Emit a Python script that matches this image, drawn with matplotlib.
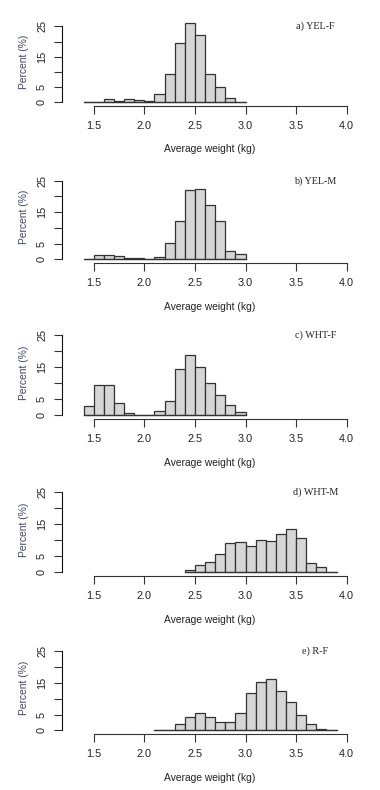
import numpy as np
import matplotlib
matplotlib.use('Agg')
import matplotlib.pyplot as plt

plt.rcParams['font.family'] = ['Liberation Sans', 'DejaVu Sans']

# bin edges: 0.1 kg wide, percent per bin
bins_a = np.round(np.arange(1.4, 3.01, 0.1), 2)
pct_a = [0, 0.1, 1.1, 0.4, 1.1, 0.8, 0.4, 2.6, 9.2, 19.5, 26.1, 22.1, 9.2, 4.9, 1.3, 0]

bins_b = np.round(np.arange(1.4, 3.01, 0.1), 2)
pct_b = [0, 1.3, 1.3, 1.0, 0.3, 0.3, 0, 0.6, 5.1, 12.1, 22.0, 22.4, 17.2, 12.1, 2.5, 1.6]

bins_c = np.round(np.arange(1.4, 3.01, 0.1), 2)
pct_c = [2.8, 9.4, 9.4, 3.75, 0.6, 0, 0, 1.25, 4.4, 14.4, 18.75, 15.2, 10.0, 6.25, 3.1, 0.9]

bins_d = np.round(np.arange(2.4, 3.91, 0.1), 2)
pct_d = [0.6, 2.2, 3.1, 5.6, 9.1, 9.4, 8.1, 10.0, 9.7, 11.9, 13.4, 10.6, 2.8, 1.6, 0]

bins_e = np.round(np.arange(2.1, 3.91, 0.1), 2)
pct_e = [0, 0.1, 1.9, 4.1, 5.4, 4.1, 2.5, 2.5, 5.4, 11.7, 15.2, 16.1, 12.3, 8.9, 4.7, 1.9, 0.3, 0.1]

panel_labels = ['a) YEL-F', 'b) YEL-M', 'c) WHT-F', 'd) WHT-M', 'e) R-F']
x_ticks = [1.5, 2.0, 2.5, 3.0, 3.5, 4.0]
y_ticks = [0, 5, 10, 15, 20, 25]
y_ticklabels = ['0', '5', '', '15', '', '25']

panels = [(bins_a, pct_a), (bins_b, pct_b), (bins_c, pct_c), (bins_d, pct_d), (bins_e, pct_e)]

# pixel layout (from top): row of the 0% level and px per percent
W, H = 380, 790
zero_px = [102.3, 259.3, 415.3, 572.3, 730.3]
px_per = [3.04, 3.14, 3.2, 3.2, 3.16]
x0_px, x_per = 93.7, 101.2   # pixel of 1.5 kg, px per kg
xlo, xhi = 1.19, 4.1
ylo, yhi = -1.2, 28

fig = plt.figure(figsize=(W / 100, H / 100), dpi=100)

for i, (edges, pct) in enumerate(panels):
    s = px_per[i]
    left = x0_px + (xlo - 1.5) * x_per
    right = x0_px + (xhi - 1.5) * x_per
    bottom = zero_px[i] - ylo * s
    top = zero_px[i] - yhi * s
    ax = fig.add_axes([left / W, 1 - bottom / H, (right - left) / W, (bottom - top) / H])

    ax.bar(edges[:-1], pct, width=0.1, align='edge', color='#d6d6d6',
           edgecolor='#333333', linewidth=0.9)
    ax.plot([edges[0], edges[-1]], [0, 0], color='#333333', lw=0.9)

    ax.set_xlim(xlo, xhi)
    ax.set_ylim(ylo, yhi)
    for sp in ['top', 'right']:
        ax.spines[sp].set_visible(False)
    ax.spines['bottom'].set_bounds(1.5, 4.0)
    ax.spines['left'].set_bounds(0, 25)
    ax.spines['bottom'].set_color('#333333')
    ax.spines['left'].set_color('#111111')

    ax.set_xticks(x_ticks)
    ax.set_xticklabels([f'{v:.1f}' for v in x_ticks], fontsize=7.8)
    ax.set_yticks(y_ticks)
    ax.set_yticklabels(y_ticklabels, fontsize=7.8, rotation=90, va='center')
    ax.tick_params(axis='x', length=5.5, width=0.8, pad=5, colors='#333333', labelcolor='#222222')
    ax.tick_params(axis='y', length=5.5, width=0.8, pad=5.5, colors='#333333', labelcolor='#222222')

    ax.set_xlabel('Average weight (kg)', fontsize=7.4, labelpad=10, color='#222222')
    ax.set_ylabel('Percent (%)', fontsize=7.4, labelpad=6, color='#3b4660')

    ax.text(3.69, 25, panel_labels[i], fontsize=7.3, family='Liberation Serif',
            ha='center', va='center', color='#222222')

fig.savefig('out.png', dpi=100)
